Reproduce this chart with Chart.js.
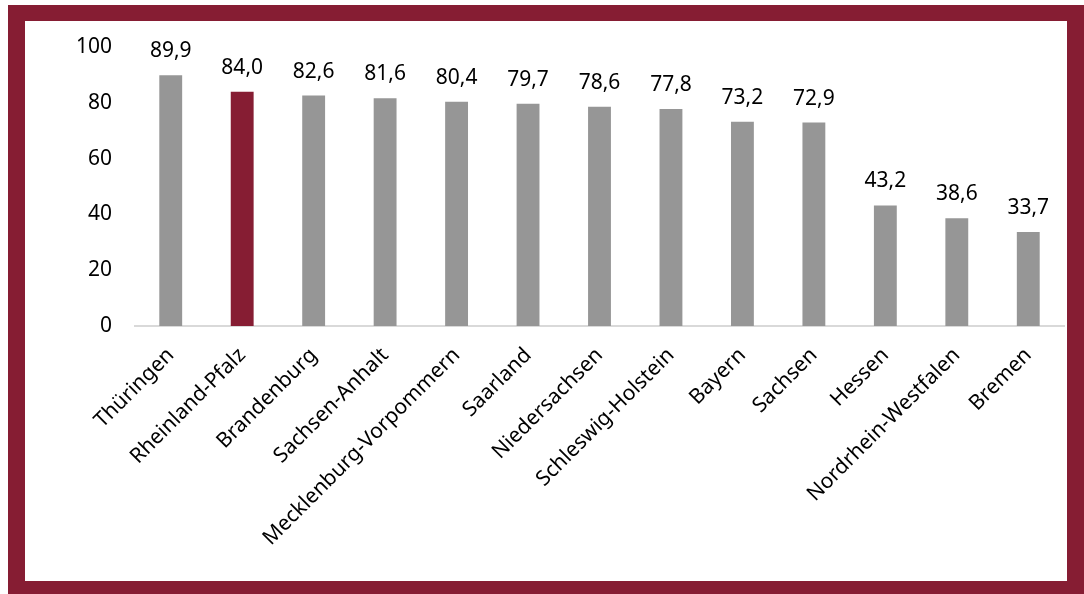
<!DOCTYPE html>
<html lang="de">
<head>
<meta charset="utf-8">
<title>Anteil nach Bundesland</title>
<script src="https://cdn.jsdelivr.net/npm/chart.js@4.4.1/dist/chart.umd.min.js"></script>
<style>
  html, body { margin: 0; padding: 0; background: #fff; overflow: hidden; }
  body { width: 1084px; height: 594px; position: relative; }
  .frame {
    position: absolute; left: 8px; top: 5px;
    width: 1076px; height: 592px; box-sizing: border-box;
    border: solid #861D33; border-width: 16px 17px 16px 17px;
    background: #fff;
  }
  #chart { position: absolute; left: 25px; top: 21px; }
</style>
</head>
<body>
<div class="frame"></div>
<canvas id="chart" width="1042" height="560"></canvas>
<script>
// Bundesländer, sortiert nach Wert
const categories = [
  'Thüringen', 'Rheinland-Pfalz', 'Brandenburg', 'Sachsen-Anhalt',
  'Mecklenburg-Vorpommern', 'Saarland', 'Niedersachsen', 'Schleswig-Holstein',
  'Bayern', 'Sachsen', 'Hessen', 'Nordrhein-Westfalen', 'Bremen'
];
const values = [89.9, 84.0, 82.6, 81.6, 80.4, 79.7, 78.6, 77.8, 73.2, 72.9, 43.2, 38.6, 33.7];
const highlighted = ['Rheinland-Pfalz'];
const yTicks = [0, 20, 40, 60, 80, 100];

const GREY = '#969696';
const WINE = '#861D33';
const FONT = '"Noto Sans", "Open Sans", sans-serif';

const barColors = categories.map(c => highlighted.includes(c) ? WINE : GREY);
const fmt = v => v.toFixed(1).replace('.', ',');

// Wertebeschriftung über jedem Balken
const valueLabels = {
  id: 'valueLabels',
  afterDatasetsDraw(chart) {
    const { ctx } = chart;
    const meta = chart.getDatasetMeta(0);
    ctx.save();
    ctx.font = '21px ' + FONT;
    ctx.fillStyle = '#000';
    ctx.textAlign = 'center';
    ctx.textBaseline = 'alphabetic';
    meta.data.forEach((bar, i) => {
      ctx.fillText(fmt(chart.data.datasets[0].data[i]), bar.x, bar.y - 18);
    });
    ctx.restore();
  }
};

new Chart(document.getElementById('chart'), {
  type: 'bar',
  data: {
    labels: categories,
    datasets: [{
      data: values,
      backgroundColor: barColors,
      borderWidth: 0,
      categoryPercentage: 1,
      barPercentage: 0.32
    }]
  },
  options: {
    responsive: false,
    devicePixelRatio: 1,
    animation: false,
    layout: { padding: { top: 26, right: 3, left: 0, bottom: 0 } },
    plugins: { legend: { display: false }, tooltip: { enabled: false } },
    scales: {
      x: {
        grid: { display: false, drawTicks: false },
        border: { display: true, color: '#D9D9D9', width: 2 },
        ticks: {
          color: '#000',
          font: { family: FONT, size: 21 },
          minRotation: 45, maxRotation: 45,
          padding: 17,
          autoSkip: false
        },
        afterFit(scale) { scale.height = 255; }
      },
      y: {
        min: 0, max: 100,
        afterBuildTicks(scale) { scale.ticks = yTicks.map(v => ({ value: v })); },
        grid: { display: false, drawTicks: false },
        border: { display: false },
        ticks: {
          color: '#000',
          font: { family: FONT, size: 21 },
          padding: 23
        },
        afterFit(scale) { scale.width = 110; scale.paddingTop = 0; scale.paddingBottom = 0; }
      }
    }
  },
  plugins: [valueLabels]
});
</script>
</body>
</html>
